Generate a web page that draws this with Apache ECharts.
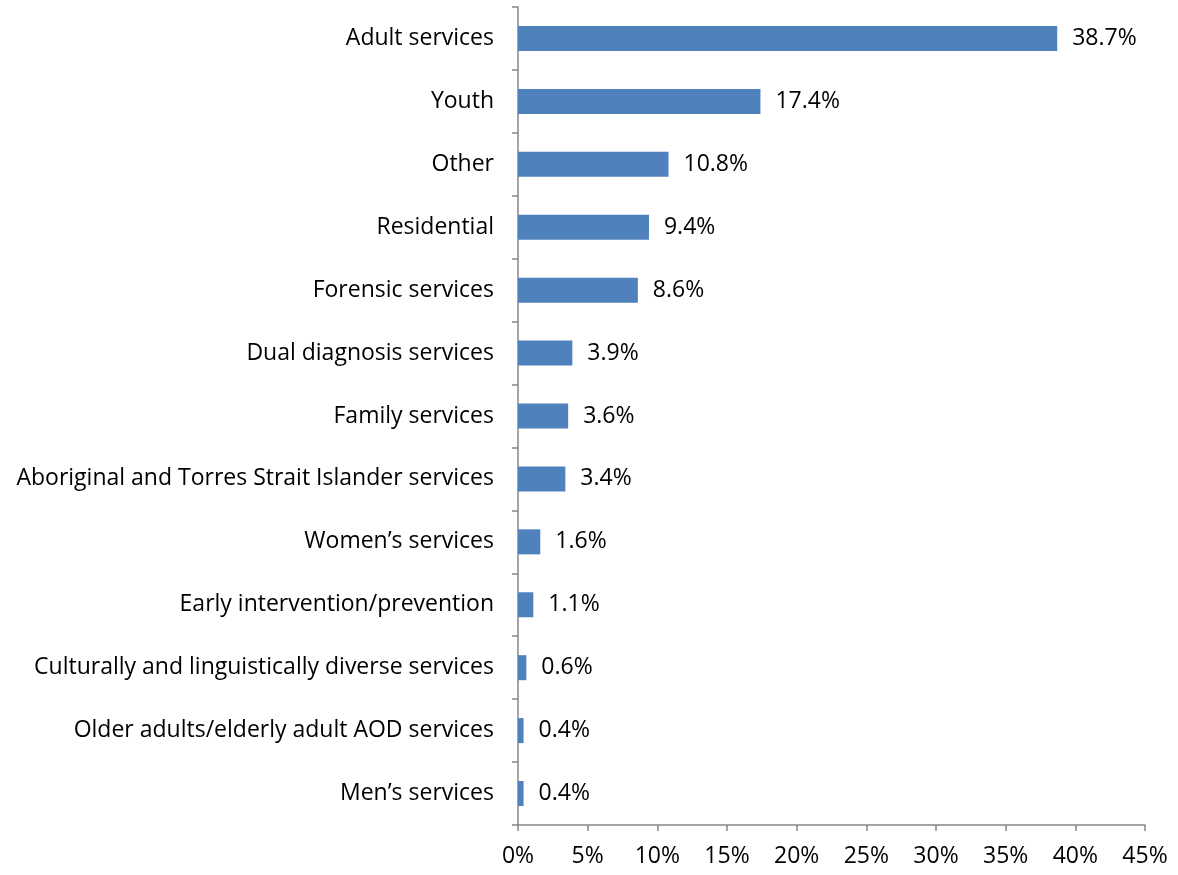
<!DOCTYPE html>
<html>
<head>
<meta charset="utf-8">
<script src="https://cdn.jsdelivr.net/npm/echarts@6/dist/echarts.min.js"></script>
<style>
  html, body { margin: 0; padding: 0; background: #ffffff; }
  #chart { width: 1178px; height: 875px; }
</style>
</head>
<body>
<div id="chart"></div>
<script>
// Service types, listed top to bottom
const categories = [
  'Adult services',
  'Youth',
  'Other',
  'Residential',
  'Forensic services',
  'Dual diagnosis services',
  'Family services',
  'Aboriginal and Torres Strait Islander services',
  'Women\u2019s services',
  'Early intervention/prevention',
  'Culturally and linguistically diverse services',
  'Older adults/elderly adult AOD services',
  'Men\u2019s services'
];
// Share of services (%)
const shares = [38.7, 17.4, 10.8, 9.4, 8.6, 3.9, 3.6, 3.4, 1.6, 1.1, 0.6, 0.4, 0.4];

const FONT = 'Open Sans';
const FONT_SIZE = 23;
const AXIS_GREY = '#868686';

const chart = echarts.init(document.getElementById('chart'));
chart.setOption({
  animation: false,
  grid: { left: 518, top: 7, right: 33, bottom: 50, containLabel: false },
  xAxis: {
    type: 'value',
    min: 0,
    max: 45,
    interval: 5,
    axisLine: { show: true, lineStyle: { color: AXIS_GREY, width: 1.5 } },
    axisTick: { show: true, length: 6, lineStyle: { color: AXIS_GREY, width: 1.5 } },
    splitLine: { show: false },
    axisLabel: {
      formatter: v => v + '%',
      color: '#000',
      fontFamily: FONT,
      fontSize: FONT_SIZE,
      margin: 20
    }
  },
  yAxis: {
    type: 'category',
    data: categories,
    inverse: true,
    axisLine: { show: true, lineStyle: { color: AXIS_GREY, width: 1.5 } },
    axisTick: { show: true, length: 6, lineStyle: { color: AXIS_GREY, width: 1.5 } },
    axisLabel: {
      color: '#000',
      fontFamily: FONT,
      fontSize: FONT_SIZE,
      margin: 24,
      padding: [4, 0, 0, 0]
    }
  },
  series: [{
    type: 'bar',
    data: shares,
    barWidth: 25,
    itemStyle: { color: '#4F81BD' },
    label: {
      show: true,
      position: 'right',
      distance: 15,
      padding: [4, 0, 0, 0],
      formatter: p => p.value.toFixed(1) + '%',
      color: '#000',
      fontFamily: FONT,
      fontSize: FONT_SIZE
    }
  }]
});
</script>
</body>
</html>
